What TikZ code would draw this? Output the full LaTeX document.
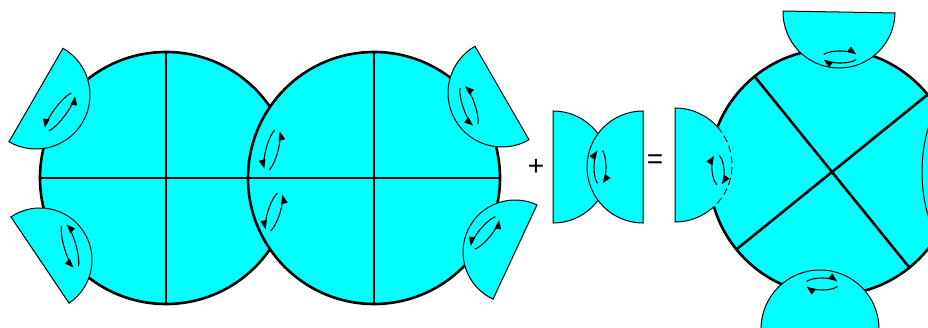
\documentclass[tikz,border=0pt]{standalone}
\usepackage{fontspec}
\setmainfont{Liberation Sans}
\usetikzlibrary{arrows.meta}
\definecolor{piececyan}{RGB}{0,255,255}

\newcommand{\halfdisc}[3]{%
  \filldraw[hdisc] (#1) ++({#3+90}:#2) arc[start angle={#3+90}, end angle={#3-90}, radius=#2] -- cycle;}
\newcommand{\spinccw}[3]{%
  \begin{scope}[shift={(#1)}, rotate=#2]
    \draw[spin] (25:#3 and 6) arc[start angle=25, end angle=155, x radius=#3, y radius=6];
    \draw[spin] (205:#3 and 6) arc[start angle=205, end angle=335, x radius=#3, y radius=6];
  \end{scope}}
\newcommand{\spincw}[3]{%
  \begin{scope}[shift={(#1)}, rotate=#2]
    \draw[spin] (155:#3 and 6) arc[start angle=155, end angle=25, x radius=#3, y radius=6];
    \draw[spin] (335:#3 and 6) arc[start angle=335, end angle=205, x radius=#3, y radius=6];
  \end{scope}}

\begin{document}
\begin{tikzpicture}[x=1pt, y=1pt,
  piece/.style={circle, draw, line width=2.6pt, fill=piececyan, inner sep=0pt, outer sep=0pt},
  cut/.style={line width=2.6pt},
  hdisc/.style={draw, line width=1pt, fill=piececyan},
  spin/.style={line width=1.1pt, -{Triangle[length=9pt, width=6.5pt]}},
  sign/.style={font=\fontsize{28}{28}\selectfont},
]
\useasboundingbox (0,0) rectangle (928,327);
\clip (0,0) rectangle (928,327);

\node[piece, minimum size=252pt] (lft) at (166,149) {};
\node[piece, minimum size=252pt] (rgt) at (374,149) {};
\draw[cut] (lft.west) -- (rgt.east);
\draw[cut] (lft.north) -- (lft.south);
\draw[cut] (rgt.north) -- (rgt.south);
\halfdisc{36,232}{54}{-30}
\halfdisc{40,67}{52}{34}
\halfdisc{502,234}{54}{210}
\halfdisc{515,75}{52}{155}
\spinccw{60,215}{53}{24}
\spinccw{70,81}{106}{24}
\spinccw{272,177}{75}{22}
\spinccw{274,115}{72}{21}
\spinccw{469,221}{109}{22}
\spinccw{485,94}{50}{21}

\halfdisc{553,160}{56}{0}
\halfdisc{643,160}{56}{180}
\spincw{600,160}{90}{18}
\node[sign] (plus) at (536,160) {+};
\node[sign] (equals) at (655,165) {=};

\node[piece, minimum size=246pt] (big) at (832,155) {};
\draw[cut] (big.129) -- (big.-51);
\draw[cut] (big.39) -- (big.219);
\halfdisc{839,315}{56}{-91}
\halfdisc{820,-2}{59}{90}
\halfdisc{1082,155}{160}{180}
\fill[piececyan] (675,162) ++(90:57) arc[start angle=90, end angle=-90, radius=57] -- cycle;
\draw[line width=1pt] (675,162) ++(42:57) arc[start angle=42, end angle=90, radius=57]
  -- ++(0,-114) arc[start angle=-90, end angle=-47, radius=57];
\draw[line width=0.9pt, dash pattern=on 7pt off 4pt] (675,162) ++(42:57)
  arc[start angle=42, end angle=-47, radius=57];
\spincw{718,157}{95}{16}
\spincw{840,270}{0}{18}
\spincw{822,43}{0}{17}
\end{tikzpicture}
\end{document}
